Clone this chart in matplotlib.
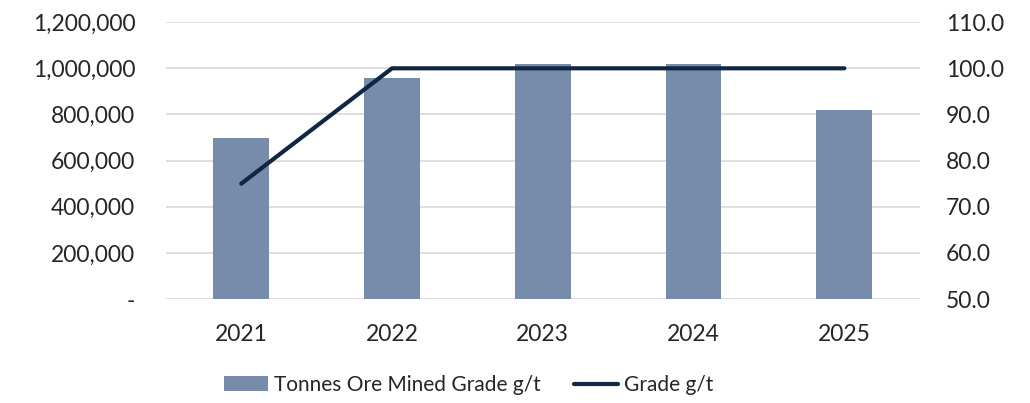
import matplotlib.pyplot as plt
from matplotlib.ticker import FuncFormatter, MultipleLocator
import numpy as np

plt.rcParams["font.family"] = ["Lato", "DejaVu Sans"]

years = ["2021", "2022", "2023", "2024", "2025"]
tonnes_mined = [700000, 960000, 1020000, 1020000, 820000]
grade = [75.0, 100.0, 100.0, 100.0, 100.0]

BAR_COLOR = "#778CAA"
LINE_COLOR = "#0F2644"
GRID_COLOR = "#D9D9D9"
TEXT_COLOR = "#262626"


def tonnes_fmt(value, pos):
    if value == 0:
        return "-"
    return f"{value:,.0f}"


fig = plt.figure(figsize=(10.3, 4.03), dpi=100)
ax = fig.add_axes([0.161, 0.258, 0.732, 0.687])
ax2 = ax.twinx()

x = np.arange(len(years))
ax.bar(x, tonnes_mined, width=0.37, color=BAR_COLOR, zorder=2,
       label="Tonnes Ore Mined Grade g/t")
ax2.plot(x, grade, color=LINE_COLOR, linewidth=3.0, solid_capstyle="round",
         zorder=3, label="Grade g/t")

ax.set_xlim(-0.5, len(years) - 0.5)
ax.set_ylim(0, 1200000)
ax.yaxis.set_major_locator(MultipleLocator(200000))
ax.yaxis.set_major_formatter(FuncFormatter(tonnes_fmt))
ax2.set_ylim(50, 110)
ax2.yaxis.set_major_locator(MultipleLocator(10))
ax2.yaxis.set_major_formatter(FuncFormatter(lambda v, p: f"{v:.1f}"))

ax.set_xticks(x)
ax.set_xticklabels(years)
ax.grid(True, axis="y", color=GRID_COLOR, linewidth=1.2, zorder=0)
ax.set_axisbelow(True)

for a in (ax, ax2):
    for side in ("top", "right", "left", "bottom"):
        a.spines[side].set_visible(False)
    a.tick_params(length=0, labelsize=16.5, colors=TEXT_COLOR)
ax.tick_params(axis="y", pad=22)
ax.tick_params(axis="x", pad=18)
ax2.tick_params(axis="y", pad=19)
ax.set_zorder(ax2.get_zorder() - 1)
ax2.patch.set_visible(False)
ax.patch.set_visible(False)

h1, l1 = ax.get_legend_handles_labels()
h2, l2 = ax2.get_legend_handles_labels()
fig.legend(h1 + h2, l1 + l2, loc="center", bbox_to_anchor=(0.455, 0.045),
           ncol=2, frameon=False, fontsize=15, handlelength=2.1,
           handletextpad=0.3, columnspacing=1.6, labelcolor=TEXT_COLOR)

fig.savefig("out.png", dpi=100)
